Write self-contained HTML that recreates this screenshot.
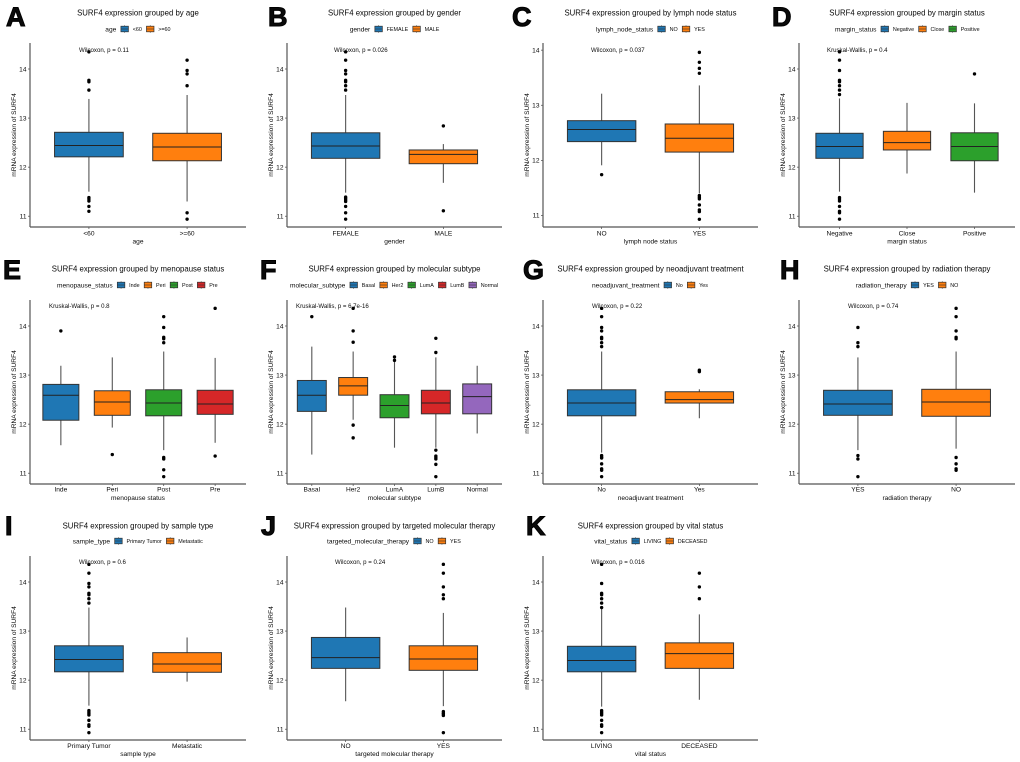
<!DOCTYPE html>
<html lang="en">
<head>
<meta charset="utf-8">
<title>SURF4 expression boxplots</title>
<style>
html,body{margin:0;padding:0;background:#fff;width:1020px;height:762px;overflow:hidden}
svg{display:block;filter:blur(0.35px)}
text{font-family:"Liberation Sans",sans-serif;fill:#0a0a0a}
</style>
</head>
<body>
<svg id="figure" xmlns="http://www.w3.org/2000/svg" width="1020" height="762" viewBox="0 0 1020 762"></svg>
<script>
const palette = ['#1F77B4', '#FF7F0E', '#2CA02C', '#D62728', '#9467BD'];
const yTickValues = [11, 12, 13, 14];

const aCats = ['<60', '>=60'];
const aQ1 = [12.21, 12.13];
const aMed = [12.44, 12.41];
const aQ3 = [12.71, 12.69];
const aLow = [11.50, 11.30];
const aHigh = [13.39, 13.47];
const aOut = [[14.35, 13.77, 13.74, 13.57, 11.38, 11.35, 11.31, 11.20, 11.10], [14.18, 13.97, 13.90, 13.66, 11.07, 10.94]];

const bCats = ['FEMALE', 'MALE'];
const bQ1 = [12.18, 12.07];
const bMed = [12.43, 12.26];
const bQ3 = [12.70, 12.35];
const bLow = [11.48, 11.68];
const bHigh = [13.47, 12.47];
const bOut = [[14.35, 14.18, 13.97, 13.90, 13.77, 13.74, 13.66, 13.57, 11.39, 11.36, 11.33, 11.30, 11.20, 11.07, 10.94], [12.84, 11.11]];

const cCats = ['NO', 'YES'];
const cQ1 = [12.34, 12.15];
const cMed = [12.56, 12.40];
const cQ3 = [12.72, 12.66];
const cLow = [11.91, 11.40];
const cHigh = [13.21, 13.36];
const cOut = [[11.74], [13.96, 13.78, 13.67, 13.58, 11.36, 11.33, 11.30, 11.19, 11.10, 11.07, 10.93]];

const dCats = ['Negative', 'Close', 'Positive'];
const dQ1 = [12.18, 12.35, 12.13];
const dMed = [12.42, 12.50, 12.42];
const dQ3 = [12.69, 12.73, 12.70];
const dLow = [11.50, 11.87, 11.48];
const dHigh = [13.40, 13.31, 13.30];
const dOut = [[14.35, 14.18, 13.97, 13.77, 13.74, 13.66, 13.57, 13.48, 11.38, 11.35, 11.31, 11.20, 11.10, 11.07, 10.94], [], [13.90]];

const eCats = ['Inde', 'Peri', 'Post', 'Pre'];
const eQ1 = [12.08, 12.18, 12.17, 12.20];
const eMed = [12.59, 12.45, 12.43, 12.41];
const eQ3 = [12.81, 12.68, 12.70, 12.69];
const eLow = [11.57, 11.93, 11.47, 11.62];
const eHigh = [13.19, 13.36, 13.48, 13.35];
const eOut = [[13.90], [11.38], [14.19, 13.97, 13.77, 13.74, 13.66, 11.32, 11.29, 11.07, 10.93], [14.36, 11.35]];

const fCats = ['Basal', 'Her2', 'LumA', 'LumB', 'Normal'];
const fQ1 = [12.26, 12.59, 12.13, 12.21, 12.21];
const fMed = [12.59, 12.78, 12.38, 12.43, 12.56];
const fQ3 = [12.89, 12.95, 12.60, 12.69, 12.82];
const fLow = [11.38, 12.09, 11.52, 11.52, 11.81];
const fHigh = [13.58, 13.48, 13.33, 13.36, 13.19];
const fOut = [[14.19], [14.36, 13.90, 13.67, 11.98, 11.72], [13.37, 13.30], [13.75, 13.46, 11.47, 11.35, 11.32, 11.29, 11.18, 10.93], []];

const gCats = ['No', 'Yes'];
const gQ1 = [12.17, 12.43];
const gMed = [12.43, 12.50];
const gQ3 = [12.70, 12.66];
const gLow = [11.42, 12.12];
const gHigh = [13.48, 12.71];
const gOut = [[14.36, 14.19, 13.97, 13.90, 13.77, 13.74, 13.66, 13.58, 11.36, 11.33, 11.31, 11.19, 11.09, 11.06, 10.93], [13.10, 13.07]];

const hCats = ['YES', 'NO'];
const hQ1 = [12.18, 12.16];
const hMed = [12.41, 12.45];
const hQ3 = [12.69, 12.71];
const hLow = [11.47, 11.50];
const hHigh = [13.36, 13.48];
const hOut = [[13.97, 13.66, 13.58, 11.36, 11.29, 10.93], [14.36, 14.19, 13.90, 13.77, 13.74, 11.32, 11.19, 11.09, 11.06]];

const iCats = ['Primary Tumor', 'Metastatic'];
const iQ1 = [12.17, 12.16];
const iMed = [12.42, 12.33];
const iQ3 = [12.70, 12.56];
const iLow = [11.48, 11.97];
const iHigh = [13.48, 12.87];
const iOut = [[14.36, 14.18, 13.97, 13.90, 13.77, 13.74, 13.66, 13.57, 11.38, 11.35, 11.32, 11.29, 11.18, 11.09, 11.06, 10.93], []];

const jCats = ['NO', 'YES'];
const jQ1 = [12.24, 12.20];
const jMed = [12.46, 12.43];
const jQ3 = [12.87, 12.70];
const jLow = [11.57, 11.47];
const jHigh = [13.48, 13.37];
const jOut = [[], [14.36, 14.18, 13.90, 13.74, 13.66, 11.36, 11.33, 11.31, 11.28, 10.93]];

const kCats = ['LIVING', 'DECEASED'];
const kQ1 = [12.17, 12.24];
const kMed = [12.40, 12.54];
const kQ3 = [12.69, 12.76];
const kLow = [11.46, 11.60];
const kHigh = [13.48, 13.34];
const kOut = [[14.36, 13.97, 13.77, 13.74, 13.66, 13.57, 13.48, 11.38, 11.35, 11.32, 11.29, 11.18, 11.09, 11.06, 10.93], [14.18, 13.90, 13.66]];

const panels = [
  {id:'a', title:'SURF4 expression grouped by age', legend:'age', xTitle:'age', note:'Wilcoxon, p = 0.11', cats:aCats, q1:aQ1, med:aMed, q3:aQ3, low:aLow, high:aHigh, out:aOut, l:30, r:246, row:0, noteX:79, legendX:105.3, letterX:6, dom:[10.78,14.53]},
  {id:'b', title:'SURF4 expression grouped by gender', legend:'gender', xTitle:'gender', note:'Wilcoxon, p = 0.026', cats:bCats, q1:bQ1, med:bMed, q3:bQ3, low:bLow, high:bHigh, out:bOut, l:287, r:502, row:0, noteX:334, legendX:349.7, letterX:268, dom:[10.78,14.53]},
  {id:'c', title:'SURF4 expression grouped by lymph node status', legend:'lymph_node_status', xTitle:'lymph node status', note:'Wilcoxon, p = 0.037', cats:cCats, q1:cQ1, med:cMed, q3:cQ3, low:cLow, high:cHigh, out:cOut, l:543, r:758, row:0, noteX:591, legendX:596, letterX:512, dom:[10.79,14.13]},
  {id:'d', title:'SURF4 expression grouped by margin status', legend:'margin_status', xTitle:'margin status', note:'Kruskal-Wallis, p = 0.4', cats:dCats, q1:dQ1, med:dMed, q3:dQ3, low:dLow, high:dHigh, out:dOut, l:799, r:1015, row:0, noteX:827, legendX:835, letterX:772, dom:[10.78,14.53]},
  {id:'e', title:'SURF4 expression grouped by menopause status', legend:'menopause_status', xTitle:'menopause status', note:'Kruskal-Wallis, p = 0.8', cats:eCats, q1:eQ1, med:eMed, q3:eQ3, low:eLow, high:eHigh, out:eOut, l:30, r:246, row:1, noteX:49, legendX:57, letterX:3, dom:[10.78,14.53]},
  {id:'f', title:'SURF4 expression grouped by molecular subtype', legend:'molecular_subtype', xTitle:'molecular subtype', note:'Kruskal-Wallis, p = 6.7e-16', cats:fCats, q1:fQ1, med:fMed, q3:fQ3, low:fLow, high:fHigh, out:fOut, l:287, r:502, row:1, noteX:296, legendX:290, letterX:260, dom:[10.78,14.53]},
  {id:'g', title:'SURF4 expression grouped by neoadjuvant treatment', legend:'neoadjuvant_treatment', xTitle:'neoadjuvant treatment', note:'Wilcoxon, p = 0.22', cats:gCats, q1:gQ1, med:gMed, q3:gQ3, low:gLow, high:gHigh, out:gOut, l:543, r:758, row:1, noteX:592, legendX:592, letterX:523, dom:[10.78,14.53]},
  {id:'h', title:'SURF4 expression grouped by radiation therapy', legend:'radiation_therapy', xTitle:'radiation therapy', note:'Wilcoxon, p = 0.74', cats:hCats, q1:hQ1, med:hMed, q3:hQ3, low:hLow, high:hHigh, out:hOut, l:799, r:1015, row:1, noteX:848, legendX:855.7, letterX:780, dom:[10.78,14.53]},
  {id:'i', title:'SURF4 expression grouped by sample type', legend:'sample_type', xTitle:'sample type', note:'Wilcoxon, p = 0.6', cats:iCats, q1:iQ1, med:iMed, q3:iQ3, low:iLow, high:iHigh, out:iOut, l:30, r:246, row:2, noteX:79, legendX:72.7, letterX:5, dom:[10.78,14.53]},
  {id:'j', title:'SURF4 expression grouped by targeted molecular therapy', legend:'targeted_molecular_therapy', xTitle:'targeted molecular therapy', note:'Wilcoxon, p = 0.24', cats:jCats, q1:jQ1, med:jMed, q3:jQ3, low:jLow, high:jHigh, out:jOut, l:287, r:502, row:2, noteX:335, legendX:327, letterX:261, dom:[10.78,14.53]},
  {id:'k', title:'SURF4 expression grouped by vital status', legend:'vital_status', xTitle:'vital status', note:'Wilcoxon, p = 0.016', cats:kCats, q1:kQ1, med:kMed, q3:kQ3, low:kLow, high:kHigh, out:kOut, l:543, r:758, row:2, noteX:591, legendX:594.3, letterX:526, dom:[10.78,14.53]}
];

const rowTop = [43, 300, 556];
const rowBottom = [227, 484, 740];
const rowTitleY = [13, 269, 526];
const rowLegendY = [29, 285, 541];
const rowNoteY = [50, 306, 562];
const rowTickY = [233, 489, 745.5];
const rowXTitleY = [241, 497.5, 753.5];
const rowLetterY = [26, 279, 535];

const NS = 'http://www.w3.org/2000/svg';
const root = document.getElementById('figure');

function mk(tag, attrs, parent, content) {
  const node = document.createElementNS(NS, tag);
  for (const key in attrs) node.setAttribute(key, attrs[key]);
  if (content !== undefined) node.textContent = content;
  parent.appendChild(node);
  return node;
}

function drawLegend(p, g, palette) {
  const cy = rowLegendY[p.row];
  let x = p.legendX;
  const lt = mk('text', {x: x, y: cy + 2.3, 'font-size': 6.6}, g, p.legend);
  
  
  x += lt.getComputedTextLength() + 4.6;
  p.cats.forEach(function (cat, i) {
    const entry = mk('g', {}, g);
    
    
    const mid = x + 3.75;
    const wl = mk('line', {x1: mid, x2: mid, y1: cy - 3.8, y2: cy + 3.8, stroke: '#444', 'stroke-width': 0.6}, entry);
    
    
    const key = mk('rect', {x: x, y: cy - 2.8, width: 7.5, height: 5.6, fill: palette[i], stroke: '#333', 'stroke-width': 0.7}, entry);
    
    
    const km = mk('line', {x1: x, x2: x + 7.5, y1: cy, y2: cy, stroke: '#333', 'stroke-width': 0.6}, entry);
    
    
    x += 7.5 + 4.3;
    const label = mk('text', {x: x, y: cy + 1.9, 'font-size': 5.4}, entry, cat);
    
    
    x += label.getComputedTextLength() + 4.6;
  });
}

function drawPanel(p) {
  const top = rowTop[p.row], bottom = rowBottom[p.row];
  const yScale = function (v) { return bottom - (v - p.dom[0]) / (p.dom[1] - p.dom[0]) * (bottom - top); };
  const unit = (p.r - p.l) / (p.cats.length + 0.2);
  const xScale = function (i) { return p.l + (0.6 + i) * unit; };
  const boxW = unit * 0.7;
  const cx = (p.l + p.r) / 2;

  const g = mk('g', {}, root);
  
  

  const letter = mk('text', {x: p.letterX, y: rowLetterY[p.row], 'font-size': 27, 'font-weight': 'bold', fill: '#000', stroke: '#000', 'stroke-width': 1}, g, p.id.toUpperCase());
  
  

  const title = mk('text', {x: cx, y: rowTitleY[p.row] + 2.7, 'font-size': 7.8, 'text-anchor': 'middle'}, g, p.title);
  
  

  drawLegend(p, g, palette);

  p.cats.forEach(function (cat, i) {
    const x = xScale(i);
    const group = mk('g', {}, g);
    
    

    const whisker = mk('line', {x1: x, x2: x, y1: yScale(p.low[i]), y2: yScale(p.high[i]), stroke: '#555', 'stroke-width': 1.1}, group);
    
    

    const box = mk('rect', {x: x - boxW / 2, y: yScale(p.q3[i]), width: boxW, height: yScale(p.q1[i]) - yScale(p.q3[i]), fill: palette[i], stroke: '#333', 'stroke-width': 1}, group);
    
    

    const median = mk('line', {x1: x - boxW / 2, x2: x + boxW / 2, y1: yScale(p.med[i]), y2: yScale(p.med[i]), stroke: '#222', 'stroke-width': 1}, group);
    
    

    p.out[i].forEach(function (v) {
      const dot = mk('circle', {cx: x, cy: yScale(v), r: 1.7, fill: '#000'}, group);
      
      
    });

    const tick = mk('line', {x1: x, x2: x, y1: bottom, y2: bottom + 2, stroke: '#444', 'stroke-width': 0.7}, g);
    
    

    const tl = mk('text', {x: x, y: rowTickY[p.row] + 2.3, 'font-size': 6.6, 'text-anchor': 'middle'}, g, cat);
    
    
  });

  const note = mk('text', {x: p.noteX, y: rowNoteY[p.row] + 2.1, 'font-size': 6.1}, g, p.note);
  
  

  yTickValues.forEach(function (v) {
    const y = yScale(v);
    const tick = mk('line', {x1: p.l - 2, x2: p.l, y1: y, y2: y, stroke: '#444', 'stroke-width': 0.7}, g);
    
    
    const tl = mk('text', {x: p.l - 3.5, y: y + 2.3, 'font-size': 6.6, 'text-anchor': 'end'}, g, String(v));
    
    
  });

  const yAxis = mk('line', {x1: p.l, x2: p.l, y1: top, y2: bottom, stroke: '#555', 'stroke-width': 1.2}, g);
  
  
  const xAxis = mk('line', {x1: p.l, x2: p.r, y1: bottom, y2: bottom, stroke: '#555', 'stroke-width': 1.2}, g);
  
  

  const xt = mk('text', {x: cx, y: rowXTitleY[p.row] + 2.3, 'font-size': 6.6, 'text-anchor': 'middle'}, g, p.xTitle);
  
  

  const yMid = (top + bottom) / 2;
  const yt = mk('text', {x: 0, y: 0, 'font-size': 6.6, 'text-anchor': 'middle', transform: 'translate(' + (p.l - 14) + ',' + yMid + ') rotate(-90)'}, g, 'mRNA expression of SURF4');
  
  
}

panels.forEach(drawPanel);
</script>
</body>
</html>
